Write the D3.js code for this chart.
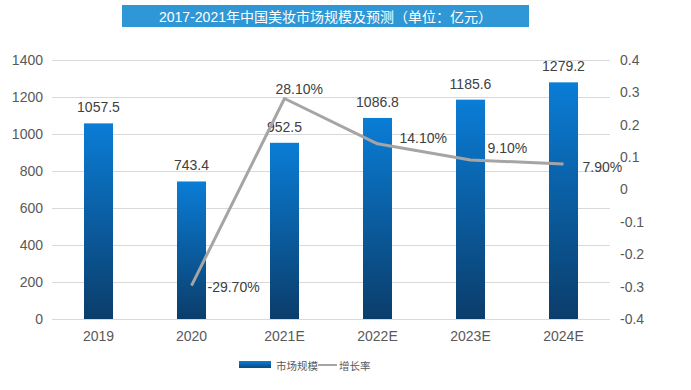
<!DOCTYPE html>
<html><head><meta charset="utf-8">
<script src="https://cdn.jsdelivr.net/npm/d3@7"></script>
<style>body{margin:0;background:#fff}svg{display:block}</style>
</head><body>
<script>
const title = "2017-2021年中国美妆市场规模及预测（单位：亿元）";
const categories = ["2019","2020","2021E","2022E","2023E","2024E"];
const marketSize = [1057.5, 743.4, 952.5, 1086.8, 1185.6, 1279.2];
const growthRate = [null, -0.297, 0.281, 0.141, 0.091, 0.079];
const growthLabels = ["", "-29.70%", "28.10%", "14.10%", "9.10%", "7.90%"];
const leftTicks = [0,200,400,600,800,1000,1200,1400];
const rightTicks = [-0.4,-0.3,-0.2,-0.1,0,0.1,0.2,0.3,0.4];
const rightTickLabels = ["-0.4","-0.3","-0.2","-0.1","0","0.1","0.2","0.3","0.4"];
const seriesNames = ["市场规模","增长率"];

// label offsets (style)
const pctOffsets = [[0,0],[16,6],[-9,-5],[22,-1],[17,-7],[19,8]];

const W=691,H=390;
const svg=d3.select("body").append("svg").attr("width",W).attr("height",H);
const font="'Liberation Sans', Arial, sans-serif";
const cjk="'Liberation Sans', 'Noto Sans CJK SC', sans-serif";

const defs=svg.append("defs");
const g=defs.append("linearGradient").attr("id","barg").attr("x1",0).attr("y1",0).attr("x2",0).attr("y2",1);
g.append("stop").attr("offset","0%").attr("stop-color","#0a7dd6");
g.append("stop").attr("offset","100%").attr("stop-color","#0b3d6b");
const lg=defs.append("linearGradient").attr("id","legg").attr("x1",0).attr("y1",0).attr("x2",0).attr("y2",1);
lg.append("stop").attr("offset","0%").attr("stop-color","#0a7dd6");
lg.append("stop").attr("offset","100%").attr("stop-color","#0b4a80");

// title
svg.append("rect").attr("x",122).attr("y",5).attr("width",407).attr("height",22).attr("fill","#2f97d5");
svg.append("text").attr("x",325.5).attr("y",21.5).attr("text-anchor","middle").attr("fill","#fff")
  .attr("font-family",cjk).attr("font-size",14).text(title);

const x=d3.scaleBand().domain(categories).range([52,610]).paddingInner(0.688).paddingOuter(0.344);
const yL=d3.scaleLinear().domain([0,1400]).range([319,60]);
const yR=d3.scaleLinear().domain([-0.4,0.4]).range([319,60]);

// gridlines
svg.append("g").selectAll("line").data(leftTicks).join("line")
  .attr("x1",52).attr("x2",610).attr("y1",d=>yL(d)+0.5).attr("y2",d=>yL(d)+0.5)
  .attr("stroke","#d9d9d9").attr("stroke-width",1);

// left axis
const axL=svg.append("g").attr("transform","translate(52,0)")
  .call(d3.axisLeft(yL).tickValues(leftTicks).tickSize(0).tickPadding(9).tickFormat(d3.format("d")));
axL.select(".domain").remove();
axL.selectAll("text").attr("font-family",font).attr("font-size",14).attr("fill","#595959");

// right axis
const axR=svg.append("g").attr("transform","translate(610,0)")
  .call(d3.axisRight(yR).tickValues(rightTicks).tickSize(0).tickPadding(10).tickFormat((d,i)=>rightTickLabels[i]));
axR.select(".domain").remove();
axR.selectAll("text").attr("font-family",font).attr("font-size",14).attr("fill","#595959");

// x axis
const axX=svg.append("g").attr("transform","translate(0,319)")
  .call(d3.axisBottom(x).tickSize(0).tickPadding(12));
axX.select(".domain").remove();
axX.selectAll("text").attr("font-family",font).attr("font-size",14).attr("fill","#595959");

// bars
svg.append("g").selectAll("rect").data(marketSize).join("rect")
  .attr("x",(d,i)=>x(categories[i])).attr("width",x.bandwidth())
  .attr("y",d=>yL(d)).attr("height",d=>yL(0)-yL(d)).attr("fill","url(#barg)");

svg.append("g").selectAll("text").data(marketSize).join("text")
  .attr("x",(d,i)=>x(categories[i])+x.bandwidth()/2).attr("y",d=>yL(d)-11)
  .attr("text-anchor","middle").attr("font-family",font).attr("font-size",14).attr("fill","#404040")
  .text(d=>d3.format(".1f")(d));

// line
const cx=i=>x(categories[i])+x.bandwidth()/2;
const line=d3.line().defined(d=>d!=null).x((d,i)=>cx(i)).y(d=>yR(d));
svg.append("path").datum(growthRate).attr("d",line).attr("fill","none")
  .attr("stroke","#a5a5a5").attr("stroke-width",3).attr("stroke-linejoin","round");

const pts=growthRate.map((v,i)=>({v,i})).filter(d=>d.v!=null);
svg.append("g").selectAll("text").data(pts).join("text")
  .attr("x",d=>cx(d.i)+pctOffsets[d.i][0]).attr("y",d=>yR(d.v)+pctOffsets[d.i][1])
  .attr("font-family",font).attr("font-size",14).attr("fill","#404040")
  .text(d=>growthLabels[d.i]);

// legend
svg.append("rect").attr("x",239).attr("y",361).attr("width",32).attr("height",7).attr("fill","url(#legg)");
svg.append("text").attr("x",276).attr("y",369.5).attr("font-family",cjk).attr("font-size",10.5).attr("fill","#595959").text(seriesNames[0]);
svg.append("line").attr("x1",318).attr("x2",337).attr("y1",365).attr("y2",365).attr("stroke","#a5a5a5").attr("stroke-width",2);
svg.append("text").attr("x",339).attr("y",369.5).attr("font-family",cjk).attr("font-size",10.5).attr("fill","#595959").text(seriesNames[1]);
</script>
</body></html>
